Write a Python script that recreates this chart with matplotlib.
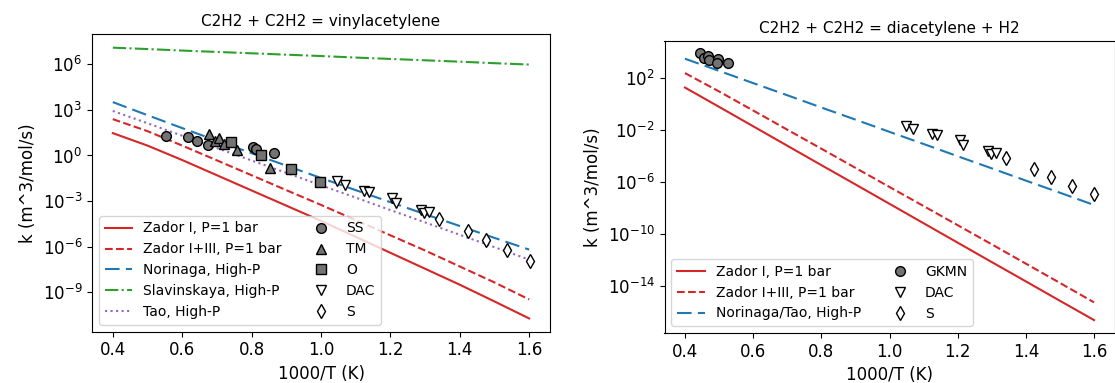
import numpy as np
import matplotlib
matplotlib.use("Agg")
import matplotlib.pyplot as plt
from matplotlib.ticker import NullLocator

# ---------------- data (log10 k) ----------------
x_line = [0.4, 0.5, 0.6, 0.7, 0.8, 0.9, 1.0, 1.1, 1.2, 1.3, 1.4, 1.5, 1.6]

# left panel: C2H2 + C2H2 = vinylacetylene
va_zador1 = [1.47, 0.65, -0.30, -1.30, -2.30, -3.30, -4.30, -5.35, -6.40, -7.45, -8.50, -9.60, -10.72]
va_zador13 = [2.39, 1.60, 0.65, -0.32, -1.30, -2.28, -3.25, -4.25, -5.25, -6.25, -7.30, -8.35, -9.47]
va_norinaga = [3.51, 2.65, 1.80, 0.97, 0.15, -0.67, -1.48, -2.28, -3.07, -3.86, -4.64, -5.42, -6.19]
va_slavinskaya = [7.09, 7.00, 6.90, 6.81, 6.72, 6.63, 6.54, 6.44, 6.35, 6.26, 6.17, 6.07, 5.98]
va_tao = [2.93, 2.12, 1.30, 0.49, -0.33, -1.14, -1.96, -2.77, -3.59, -4.40, -5.22, -6.03, -6.85]

ss_x = [0.553, 0.618, 0.644, 0.673, 0.805, 0.812, 0.865]
ss_y = [1.31, 1.21, 0.94, 0.72, 0.55, 0.44, 0.16]
tm_x = [0.678, 0.695, 0.706, 0.719, 0.757, 0.852]
tm_y = [1.42, 0.98, 1.14, 0.75, 0.33, -0.83]
o_x = [0.742, 0.827, 0.913, 0.997]
o_y = [0.88, 0.00, -0.87, -1.73]
dac_x = [1.047, 1.069, 1.124, 1.139, 1.206, 1.216, 1.288, 1.297, 1.312]
dac_va_y = [-1.71, -1.92, -2.32, -2.41, -2.80, -3.13, -3.57, -3.78, -3.74]
s_x = [1.341, 1.424, 1.475, 1.535, 1.601]
s_va_y = [-4.16, -4.99, -5.58, -6.24, -6.91]

# right panel: C2H2 + C2H2 = diacetylene + H2
da_zador1 = [1.23, -0.25, -1.74, -3.23, -4.72, -6.20, -7.69, -9.18, -10.67, -12.16, -13.64, -15.13, -16.61]
da_zador13 = [2.34, 0.93, -0.53, -2.00, -3.46, -4.93, -6.40, -7.86, -9.33, -10.80, -12.28, -13.76, -15.25]
da_norinaga_tao = [3.44, 2.51, 1.57, 0.64, -0.30, -1.23, -2.17, -3.10, -4.04, -4.97, -5.91, -6.84, -7.78]

gkmn_x = [0.445, 0.456, 0.467, 0.470, 0.497, 0.494, 0.526]
gkmn_y = [3.87, 3.51, 3.67, 3.36, 3.44, 3.15, 3.10]
dac_da_y = [-1.71, -1.94, -2.32, -2.40, -2.78, -3.17, -3.60, -3.86, -3.81]
s_da_y = [-4.14, -5.04, -5.60, -6.29, -6.96]

# ---------------- figure ----------------
fig = plt.figure(figsize=(11.15, 3.83), dpi=100)
ax1 = fig.add_axes([92 / 1115, 1 - 331.7 / 383, 458 / 1115, 297.4 / 383])
ax2 = fig.add_axes([664.5 / 1115, 1 - 333 / 383, 450 / 1115, 292 / 383])

RED, BLUE, GREEN, PURPLE = "#d62728", "#1f77b4", "#2ca02c", "#9467bd"
GRAY = "0.45"
ms = 7
lw = 1.5


def p(v):
    return 10.0 ** np.asarray(v)


# left
ax1.plot(x_line, p(va_zador1), "-", color=RED, lw=lw, label="Zador I, P=1 bar")
ax1.plot(x_line, p(va_zador13), "--", color=RED, lw=lw, label="Zador I+III, P=1 bar")
ax1.plot(x_line, p(va_norinaga), color=BLUE, lw=lw, dashes=(7, 3), label="Norinaga, High-P")
ax1.plot(x_line, p(va_slavinskaya), "-.", color=GREEN, lw=lw, label="Slavinskaya, High-P")
ax1.plot(x_line, p(va_tao), ":", color=PURPLE, lw=lw, label="Tao, High-P")
ax1.plot(ss_x, p(ss_y), "o", ls="none", ms=ms, mfc=GRAY, mec="k", mew=1, label="SS")
ax1.plot(tm_x, p(tm_y), "^", ls="none", ms=ms, mfc=GRAY, mec="k", mew=1, label="TM")
ax1.plot(o_x, p(o_y), "s", ls="none", ms=ms, mfc=GRAY, mec="k", mew=1, label="O")
ax1.plot(dac_x, p(dac_va_y), "v", ls="none", ms=ms + 0.5, mfc="white", mec="k", mew=1, label="DAC")
ax1.plot(s_x, p(s_va_y), "d", ls="none", ms=ms + 0.5, mfc="white", mec="k", mew=1, label="S")

ax1.set_yscale("log")
ax1.set_xlim(0.34, 1.66)
ax1.set_ylim(10 ** -11.59, 10 ** 7.97)
ax1.set_yticks([1e-9, 1e-6, 1e-3, 1e0, 1e3, 1e6])
ax1.yaxis.set_minor_locator(NullLocator())
ax1.set_xticks([0.4, 0.6, 0.8, 1.0, 1.2, 1.4, 1.6])
ax1.set_xticklabels(["0.4", "0.6", "0.8", "1.0", "1.2", "1.4", "1.6"])
ax1.set_title("C2H2 + C2H2 = vinylacetylene", fontsize=11)
ax1.set_xlabel("1000/T (K)", fontsize=12)
ax1.set_ylabel("k (m^3/mol/s)", fontsize=12)
ax1.tick_params(labelsize=12)
ax1.legend(loc="lower left", ncol=2, fontsize=10, columnspacing=1.8)

# right
ax2.plot(x_line, p(da_zador1), "-", color=RED, lw=lw, label="Zador I, P=1 bar")
ax2.plot(x_line, p(da_zador13), "--", color=RED, lw=lw, label="Zador I+III, P=1 bar")
ax2.plot(x_line, p(da_norinaga_tao), color=BLUE, lw=lw, dashes=(7, 3), label="Norinaga/Tao, High-P")
ax2.plot(gkmn_x, p(gkmn_y), "o", ls="none", ms=ms, mfc=GRAY, mec="k", mew=1, label="GKMN")
ax2.plot(dac_x, p(dac_da_y), "v", ls="none", ms=ms + 0.5, mfc="white", mec="k", mew=1, label="DAC")
ax2.plot(s_x, p(s_da_y), "d", ls="none", ms=ms + 0.5, mfc="white", mec="k", mew=1, label="S")

ax2.set_yscale("log")
ax2.set_xlim(0.34, 1.66)
ax2.set_ylim(10 ** -17.6, 10 ** 4.8)
ax2.set_yticks([1e-14, 1e-10, 1e-6, 1e-2, 1e2])
ax2.yaxis.set_minor_locator(NullLocator())
ax2.set_xticks([0.4, 0.6, 0.8, 1.0, 1.2, 1.4, 1.6])
ax2.set_xticklabels(["0.4", "0.6", "0.8", "1.0", "1.2", "1.4", "1.6"])
ax2.set_title("C2H2 + C2H2 = diacetylene + H2", fontsize=11)
ax2.set_xlabel("1000/T (K)", fontsize=12)
ax2.set_ylabel("k (m^3/mol/s)", fontsize=12)
ax2.tick_params(labelsize=12)
ax2.legend(loc="lower left", ncol=2, fontsize=10, columnspacing=1.8)

fig.savefig("out.png", dpi=100)
